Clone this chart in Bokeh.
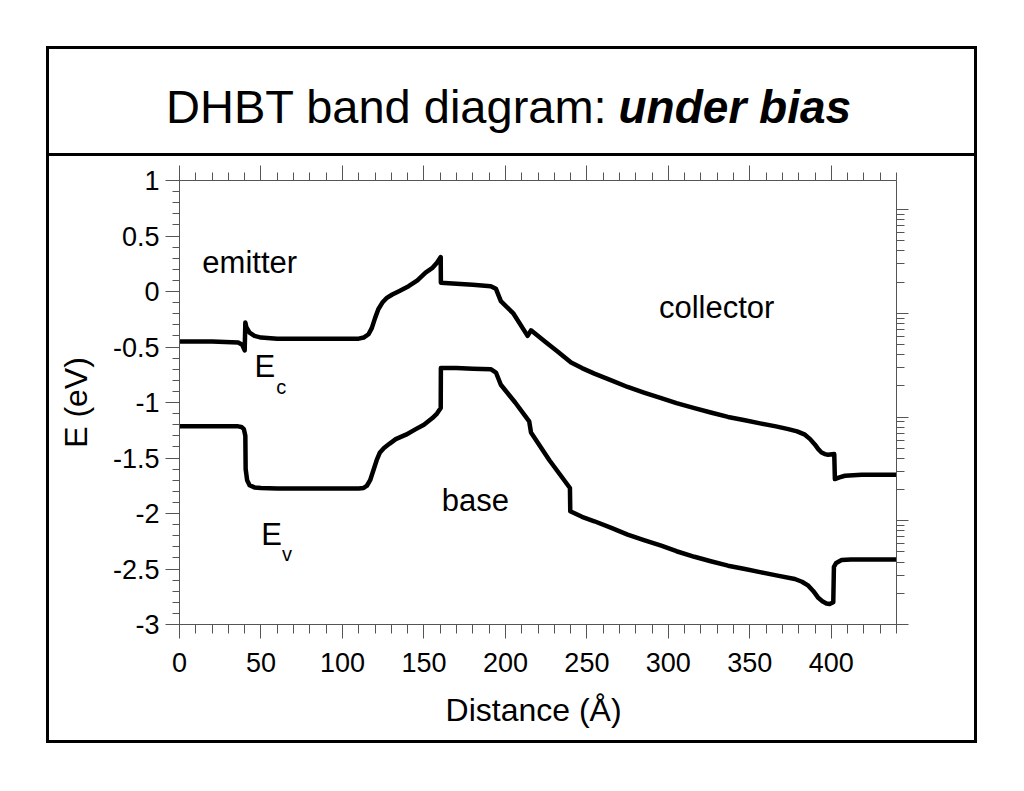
from bokeh.plotting import figure
from bokeh.layouts import row, column
from bokeh.models import (Range1d, LinearAxis, LogAxis, LogScale, FixedTicker, LogTicker,
                          Label, Div, Spacer)
from bokeh.embed import file_html
from bokeh.resources import INLINE

# ---------------- data ----------------
distance_ec = [0, 20, 36, 38.5, 40, 40.4, 41, 43, 46, 50, 60, 80, 100, 110, 113, 116, 118, 120,
               122, 124.5, 127, 130.6, 135, 140.6, 146, 151, 155, 158, 160.3, 160.4, 170, 180,
               191, 194.2, 197.2, 205, 213.6, 215.7, 225, 232, 240.3, 247, 254.6, 265, 275, 285,
               295.6, 305, 316, 326, 336.6, 347, 357, 366, 373.6, 379, 383.8, 387, 390, 392, 394,
               396, 398, 401.8, 402.2, 405, 408.4, 418.6, 430, 440]
energy_ec = [-0.45, -0.45, -0.46, -0.48, -0.53, -0.28, -0.32, -0.37, -0.40, -0.415, -0.425, -0.425,
             -0.425, -0.425, -0.415, -0.385, -0.33, -0.24, -0.16, -0.10, -0.06, -0.027, 0.005,
             0.048, 0.10, 0.17, 0.21, 0.26, 0.31, 0.078, 0.07, 0.06, 0.048, 0.024, -0.087, -0.20,
             -0.40, -0.35, -0.46, -0.54, -0.64, -0.69, -0.74, -0.80, -0.86, -0.91, -0.96, -1.005,
             -1.05, -1.09, -1.13, -1.16, -1.19, -1.215, -1.24, -1.26, -1.29, -1.33, -1.38, -1.42,
             -1.45, -1.465, -1.47, -1.465, -1.69, -1.675, -1.66, -1.65, -1.65, -1.65]

distance_ev = [0, 20, 36, 38, 39.5, 40.4, 40.6, 41.5, 43, 46, 50, 60, 80, 100, 110, 113, 115, 117,
               119, 121, 123, 125.5, 129, 132.7, 139, 145, 150, 155.2, 158, 160.3, 160.4, 170, 180,
               191, 194.2, 197.2, 206, 214.6, 215.7, 227, 239.6, 239.8, 247, 254.6, 265, 275, 285,
               295.6, 305, 316, 326, 336.6, 347, 357, 367, 377.6, 382, 385.9, 389, 392, 394.5, 397,
               399, 401.2, 401.6, 403, 406.3, 412, 418.6, 430, 440]
energy_ev = [-1.215, -1.215, -1.215, -1.22, -1.24, -1.30, -1.60, -1.70, -1.745, -1.765, -1.77,
             -1.775, -1.775, -1.775, -1.775, -1.77, -1.75, -1.70, -1.61, -1.52, -1.45, -1.41, -1.37,
             -1.33, -1.29, -1.24, -1.20, -1.14, -1.10, -1.05, -0.69, -0.69, -0.695, -0.70, -0.73,
             -0.84, -1.00, -1.17, -1.27, -1.52, -1.77, -1.98, -2.03, -2.07, -2.13, -2.19, -2.24,
             -2.29, -2.34, -2.39, -2.43, -2.47, -2.50, -2.53, -2.56, -2.59, -2.615, -2.65, -2.70,
             -2.76, -2.79, -2.81, -2.815, -2.80, -2.48, -2.445, -2.42, -2.415, -2.415, -2.415, -2.415]

x_ticks = [0, 50, 100, 150, 200, 250, 300, 350, 400]
x_tick_labels = ["0", "50", "100", "150", "200", "250", "300", "350", "400"]
y_ticks = [1, 0.5, 0, -0.5, -1, -1.5, -2, -2.5, -3]
y_tick_labels = ["1", "0.5", "0", "-0.5", "-1", "-1.5", "-2", "-2.5", "-3"]

title_plain = "DHBT band diagram:"
title_bold = "under bias"
x_label = "Distance  (Å)"
y_label = "E (eV)"

FONT = "Liberation Sans"
AX = "#555555"
CW = 925          # inner width of the framed box
TH = 104          # title panel height
MH = 584          # main panel height

# ---------------- title panel ----------------
t = figure(width=CW, height=TH, output_backend="svg", toolbar_location=None, title=None,
           x_range=Range1d(0, CW), y_range=Range1d(0, TH),
           x_axis_location=None, y_axis_location=None, min_border=0)
t.frame_align = False
t.grid.visible = False
t.outline_line_color = None
t.background_fill_color = "white"
t.border_fill_color = "white"
t.add_layout(Label(x=558, y=47, text=title_plain, text_font=FONT, text_font_size="47px",
                   text_color="black", text_align="right", text_baseline="alphabetic"))
t.add_layout(Label(x=569, y=47, text=title_bold, text_font=FONT, text_font_size="46px",
                   text_font_style="bold italic", text_color="black", text_align="left",
                   text_baseline="alphabetic"))

# ---------------- main panel ----------------
p = figure(width=CW, height=MH, output_backend="svg", toolbar_location=None, title=None,
           x_range=Range1d(0, 440), y_range=Range1d(-3, 1),
           x_axis_location=None, y_axis_location=None,
           min_border_left=130, min_border_right=78, min_border_top=24, min_border_bottom=116)
p.frame_align = False
p.grid.visible = False
p.outline_line_color = None
p.background_fill_color = "white"
p.border_fill_color = "white"

p.extra_y_ranges = {"log": Range1d(1, 10 ** 4.28)}
p.extra_y_scales = {"log": LogScale()}


def style(ax, major_out, minor_out):
    ax.axis_line_color = AX
    ax.axis_line_width = 1
    ax.major_tick_line_color = AX
    ax.minor_tick_line_color = AX
    ax.major_tick_in = 0
    ax.major_tick_out = major_out
    ax.minor_tick_in = 0
    ax.minor_tick_out = minor_out
    ax.major_label_text_font = FONT
    ax.major_label_text_font_size = "27px"
    ax.major_label_text_color = "black"
    ax.axis_label_text_font = FONT
    ax.axis_label_text_font_size = "32px"
    ax.axis_label_text_font_style = "normal"
    ax.axis_label_text_color = "black"


def hide_labels(ax):
    ax.major_label_text_font_size = "0px"
    ax.major_label_text_color = None
    ax.major_label_standoff = 0


x_minor = list(range(0, 441, 10))
y_minor = [round(-3 + 0.1 * i, 1) for i in range(41)]

xb = LinearAxis(ticker=FixedTicker(ticks=x_ticks, minor_ticks=x_minor),
                major_label_overrides=dict(zip(x_ticks, x_tick_labels)), axis_label=x_label)
style(xb, 14, 9)
xb.major_label_standoff = 14
xb.axis_label_standoff = 17
p.add_layout(xb, "below")

xt = LinearAxis(ticker=FixedTicker(ticks=x_ticks, minor_ticks=x_minor))
style(xt, 15, 8)
hide_labels(xt)
p.add_layout(xt, "above")

yl = LinearAxis(ticker=FixedTicker(ticks=y_ticks, minor_ticks=y_minor),
                major_label_overrides=dict(zip(y_ticks, y_tick_labels)), axis_label=y_label)
style(yl, 14, 7)
yl.major_label_standoff = 6
yl.axis_label_standoff = 16
p.add_layout(yl, "left")

yr = LogAxis(y_range_name="log", ticker=LogTicker(num_minor_ticks=10))
style(yr, 12, 8)
hide_labels(yr)
p.add_layout(yr, "right")

# curves
p.line(distance_ec, energy_ec, line_width=4.5, line_color="black", line_join="round", line_cap="round")
p.line(distance_ev, energy_ev, line_width=4.5, line_color="black", line_join="round", line_cap="round")


def lab(x, y, txt, size="31px"):
    p.add_layout(Label(x=x, y=y, text=txt, text_font=FONT, text_font_size=size,
                       text_color="black", text_baseline="alphabetic", text_align="left"))


lab(14, 0.264, "emitter")
lab(294.2, -0.141, "collector")
lab(161, -1.885, "base")
lab(46.1, -0.68, "E")
lab(59.4, -0.863, "c", "20px")
lab(50.1, -2.185, "E")
lab(62.9, -2.368, "v", "20px")

# ---------------- frame built from black bars ----------------
def bar(w, h):
    return Div(text="", width=w, height=h, margin=0, styles={"background-color": "black"})


inner = column(bar(CW, 3), t, bar(CW, 3), p, bar(CW, 3), spacing=0, margin=0)
box = row(bar(3, TH + MH + 9), inner, bar(3, TH + MH + 9), spacing=0, margin=0)
page = column(Spacer(width=10, height=46, margin=0),
              row(Spacer(width=46, height=10, margin=0), box, spacing=0, margin=0),
              spacing=0, margin=0)

open("out.html", "w").write(file_html(page, INLINE))
